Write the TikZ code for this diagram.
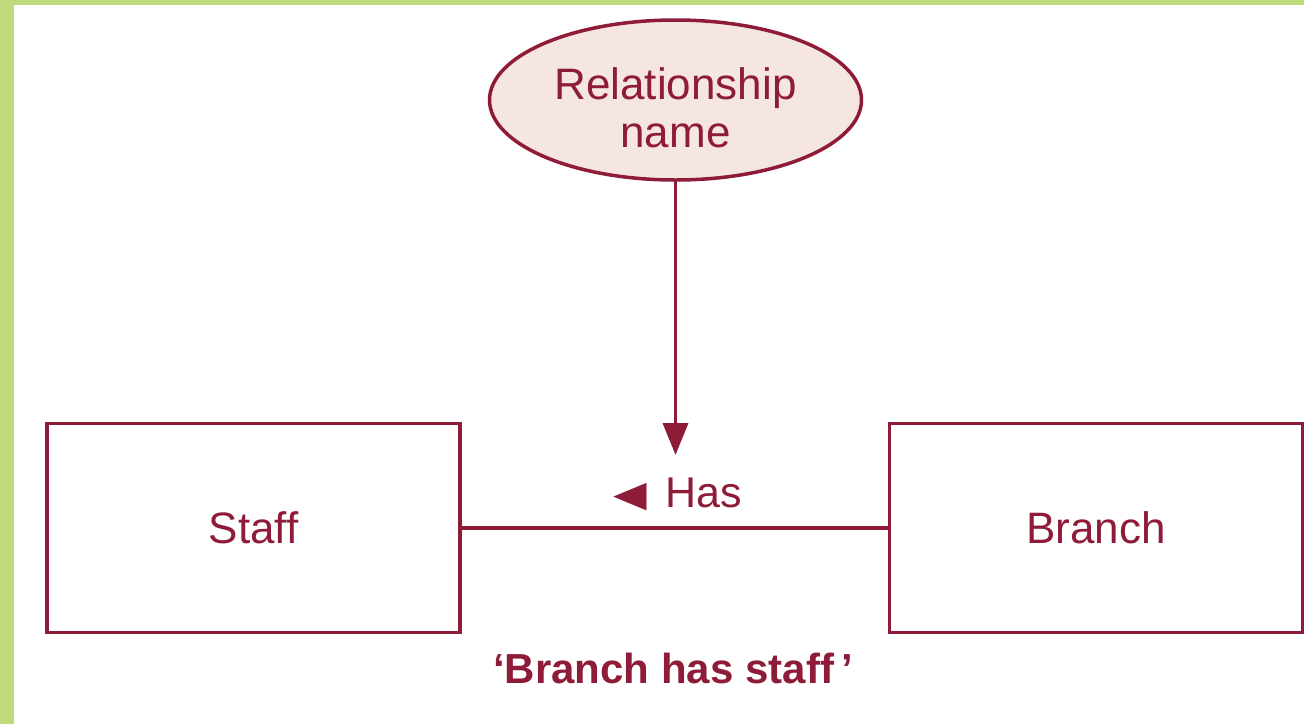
\documentclass[tikz,border=0pt]{standalone}
\usepackage{fontspec}
\setmainfont{Liberation Sans}
\newfontfamily\symfont{DejaVu Sans}
\usetikzlibrary{shapes.geometric,arrows.meta}
\definecolor{erred}{HTML}{8E1B38}
\definecolor{erfill}{HTML}{F5E6E1}
\definecolor{ergreen}{HTML}{C0DA7E}
\tikzset{
  entity/.style={draw=erred, line width=3.5pt, rectangle, minimum width=413pt, minimum height=209pt, text=erred, font=\fontsize{44}{50}\selectfont},
  relname/.style={draw=erred, line width=3.5pt, ellipse, fill=erfill, minimum width=372pt, minimum height=160pt, text=erred, font=\fontsize{44}{48}\selectfont},
  conn/.style={draw=erred, line width=3.5pt},
  lbl/.style={text=erred, font=\fontsize{43}{50}\selectfont, inner sep=0pt},
}
\begin{document}
\begin{tikzpicture}[x=1pt,y=-1pt]
\useasboundingbox (0,0) rectangle (1304,724);
\fill[ergreen] (0,0) rectangle (1304,5);
\fill[ergreen] (0,0) rectangle (14,724);
\node[entity] (staff) at (253.5,528) {Staff};
\node[entity] (branch) at (1096,528) {Branch};
\node[relname] (rel) at (675.5,100) {\raisebox{-20pt}[0pt][0pt]{\begin{tabular}{@{}c@{}}Relationship\\name\end{tabular}}};
\coordinate (tip) at (675.5,455);
\draw[conn] (staff.east) -- (branch.west);
\draw[conn, -{Triangle[length=32pt,width=25pt]}] (rel.south) -- (tip);
\node[lbl] (has) at (678,494) {\raisebox{1pt}{\symfont\fontsize{38}{40}\selectfont\scalebox{1.15}[0.95]{◀}}\hspace{18pt}Has};
\node[lbl, font=\fontsize{42}{50}\selectfont\bfseries] (caption) at (673,668) {‘Branch has staff\,’};
\end{tikzpicture}
\end{document}
